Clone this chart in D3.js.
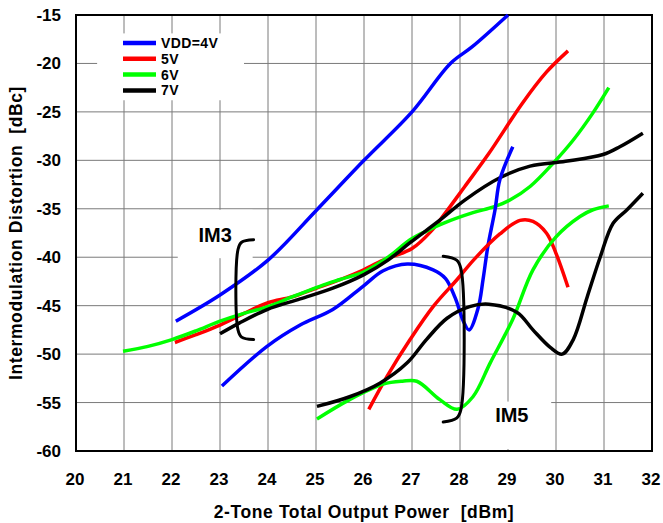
<!DOCTYPE html>
<html>
<head>
<meta charset="utf-8">
<script src="https://cdn.jsdelivr.net/npm/d3@7"></script>
<style>
  body { margin: 0; background: #fff; }
  text { font-family: 'Liberation Sans', Arial, sans-serif; font-weight: bold; }
</style>
</head>
<body>
<svg id="svg_imd" width="663" height="523"></svg>
<script>
// Series data: [output power dBm, distortion dBc]
const vdd4IM3 = [[22.08,-46.6],[23,-43.9],[24,-40.3],[25,-35.2],[26,-30],[27,-25],[27.8,-20],[28.25,-18.3],[29,-15]];
const vdd5IM3 = [[22.06,-48.8],[22.5,-48],[23,-47.0],[23.5,-45.8],[24,-44.7],[24.5,-44.1],[25,-43.2],[25.35,-42.6],[25.9,-41.5],[26.4,-40.3],[27,-39.1],[27.4,-37.3],[27.7,-35.4],[28.1,-32.7],[28.6,-29.3],[29.3,-24.1],[29.8,-20.9],[30.25,-18.7]];
const vdd6IM3 = [[20.98,-49.7],[21.5,-49.2],[22,-48.5],[22.5,-47.6],[23,-46.6],[23.5,-45.8],[24,-45.1],[24.5,-44.1],[25.08,-43.0],[25.5,-42.3],[26,-41.5],[26.5,-40.0],[26.96,-38.2],[27.3,-37.3],[27.65,-36.5],[28.27,-35.4],[28.7,-34.8],[29.04,-34.1],[29.46,-32.7],[29.94,-30.3],[30.36,-27.9],[30.77,-25.1],[31.1,-22.5]];
const vdd7IM3 = [[23.0,-47.9],[23.4,-46.8],[23.98,-45.4],[24.67,-44.3],[25.35,-43.2],[26,-41.8],[26.5,-40.3],[26.96,-38.5],[27.6,-36.1],[28.1,-34.1],[28.83,-31.8],[29.46,-30.6],[30.2,-30.1],[30.98,-29.4],[31.33,-28.6],[31.81,-27.2]];

const vdd4IM5 = [[23.04,-53.3],[23.98,-49.2],[24.67,-47.0],[25.35,-45.4],[25.98,-43.0],[26.4,-41.4],[26.9,-40.7],[27.44,-41.3],[27.7,-42.2],[27.9,-44.2],[28.07,-46.6],[28.19,-47.5],[28.38,-45.2],[28.48,-42.3],[28.58,-38.9],[28.73,-35.1],[28.83,-32.0],[29.1,-28.6]];
const vdd5IM5 = [[26.1,-55.7],[26.48,-52.3],[26.96,-48.5],[27.44,-45.1],[27.94,-42.3],[28.3,-40.2],[28.83,-37.6],[29.25,-36.2],[29.52,-36.3],[29.8,-37.5],[30.0,-39.6],[30.25,-43.1]];
const vdd6IM5 = [[25.02,-56.7],[25.7,-54.7],[26.4,-53.1],[26.8,-52.8],[27.1,-52.8],[27.58,-54.7],[27.94,-55.7],[28.27,-54.4],[28.63,-50.9],[29.1,-46.4],[29.52,-41.3],[30.0,-37.9],[30.5,-35.8],[30.77,-35.1],[31.1,-34.7]];
const vdd7IM5 = [[25.02,-55.4],[25.7,-54.4],[26.33,-53.0],[26.9,-50.9],[27.3,-48.5],[27.73,-46.3],[28.2,-45.1],[28.6,-44.85],[29.19,-45.7],[29.52,-47.5],[29.88,-49.3],[30.13,-50.0],[30.36,-48.5],[30.65,-44.1],[30.92,-40.0],[31.19,-36.5],[31.48,-35.1],[31.81,-33.4]];

const legendLabels = ['VDD=4V', '5V', '6V', '7V'];
const seriesColors = ['#0000ff', '#ff0000', '#00ff00', '#000000'];
const xTicks = [20, 21, 22, 23, 24, 25, 26, 27, 28, 29, 30, 31, 32];
const yTicks = [-15, -20, -25, -30, -35, -40, -45, -50, -55, -60];

// Bracket annotations (data units)
const im3Bracket = [[23.7,-38.2],[23.45,-38.45],[23.375,-39.2],[23.375,-47.5],[23.45,-48.25],[23.7,-48.5]];
const im5Bracket = [[27.65,-39.9],[27.93,-40.3],[28.02,-41.2],[28.02,-55.7],[27.93,-56.6],[27.65,-57.0]];

const width = 663;
const height = 523;
const margin = { top: 15, right: 11, bottom: 72, left: 76 };

const x = d3.scaleLinear().domain([20, 32]).range([margin.left, width - margin.right]);
const y = d3.scaleLinear().domain([-60, -15]).range([height - margin.bottom, margin.top]);

const svg = d3.select('#svg_imd');

// grid
svg.append('g')
  .selectAll('line')
  .data(xTicks)
  .join('line')
  .attr('x1', (d) => x(d)).attr('x2', (d) => x(d))
  .attr('y1', y(-15)).attr('y2', y(-60))
  .attr('stroke', '#7a7a7a').attr('stroke-width', 1);

svg.append('g')
  .selectAll('line')
  .data(yTicks)
  .join('line')
  .attr('x1', x(20)).attr('x2', x(32))
  .attr('y1', (d) => y(d)).attr('y2', (d) => y(d))
  .attr('stroke', '#7a7a7a').attr('stroke-width', 1);

// white boxes behind the legend and the labels
svg.append('rect')
  .attr('x', x(20.44)).attr('y', y(-16.9))
  .attr('width', x(23.5) - x(20.44)).attr('height', y(-23.8) - y(-16.9))
  .attr('fill', '#fff');
svg.append('rect')
  .attr('x', x(22.12)).attr('y', y(-35.1))
  .attr('width', x(23.68) - x(22.12)).attr('height', y(-40.1) - y(-35.1))
  .attr('fill', '#fff');
svg.append('rect')
  .attr('x', x(28.04)).attr('y', y(-54.9))
  .attr('width', x(29.9) - x(28.04)).attr('height', y(-59.8) - y(-54.9))
  .attr('fill', '#fff');

// frame
svg.append('rect')
  .attr('x', x(20)).attr('y', y(-15))
  .attr('width', x(32) - x(20)).attr('height', y(-60) - y(-15))
  .attr('fill', 'none').attr('stroke', '#000').attr('stroke-width', 2);

// tick labels
svg.append('g')
  .selectAll('text')
  .data(yTicks)
  .join('text')
  .attr('x', x(20) - 15)
  .attr('y', (d) => y(d) + 6)
  .attr('text-anchor', 'end')
  .attr('font-size', 17)
  .text((d) => d);

svg.append('g')
  .selectAll('text')
  .data(xTicks)
  .join('text')
  .attr('x', (d) => x(d) - 1)
  .attr('y', 485)
  .attr('text-anchor', 'middle')
  .attr('font-size', 17)
  .text((d) => d);

// axis titles
svg.append('text')
  .attr('x', (x(20) + x(32)) / 2)
  .attr('y', 518)
  .attr('text-anchor', 'middle')
  .attr('font-size', 17.5)
  .attr('letter-spacing', 0.6)
  .attr('xml:space', 'preserve')
  .text('2-Tone Total Output Power  [dBm]');

svg.append('text')
  .attr('transform', `translate(22, ${(y(-15) + y(-60)) / 2}) rotate(-90)`)
  .attr('text-anchor', 'middle')
  .attr('font-size', 17.5)
  .attr('letter-spacing', 0.6)
  .attr('xml:space', 'preserve')
  .text('Intermodulation Distortion  [dBc]');

// curves
const line = d3.line()
  .x((d) => x(d[0]))
  .y((d) => y(d[1]))
  .curve(d3.curveCatmullRom.alpha(0.5));

const im3 = [vdd4IM3, vdd5IM3, vdd6IM3, vdd7IM3];
const im5 = [vdd4IM5, vdd5IM5, vdd6IM5, vdd7IM5];

svg.append('g')
  .selectAll('path')
  .data(im3.concat(im5))
  .join('path')
  .attr('d', line)
  .attr('fill', 'none')
  .attr('stroke', (d, i) => seriesColors[i % 4])
  .attr('stroke-width', 3.5)
  .attr('stroke-linejoin', 'round');

// brackets
svg.append('g')
  .selectAll('path')
  .data([im3Bracket, im5Bracket])
  .join('path')
  .attr('d', line)
  .attr('fill', 'none')
  .attr('stroke', '#000')
  .attr('stroke-width', 3)
  .attr('stroke-linecap', 'round');

svg.append('text')
  .attr('x', x(22.9)).attr('y', y(-38.45))
  .attr('text-anchor', 'middle')
  .attr('font-size', 20)
  .text('IM3');

svg.append('text')
  .attr('x', x(29.08)).attr('y', y(-57.0))
  .attr('text-anchor', 'middle')
  .attr('font-size', 20)
  .text('IM5');

// legend
const legend = svg.append('g')
  .selectAll('g')
  .data(legendLabels)
  .join('g')
  .attr('transform', (d, i) => `translate(123, ${43 + i * 15.8})`);

legend.append('line')
  .attr('x1', 0).attr('x2', 33)
  .attr('stroke', (d, i) => seriesColors[i])
  .attr('stroke-width', 4.5);

legend.append('text')
  .attr('x', 38)
  .attr('y', 5)
  .attr('font-size', 14)
  .attr('letter-spacing', 0.4)
  .text((d) => d);
</script>
</body>
</html>
